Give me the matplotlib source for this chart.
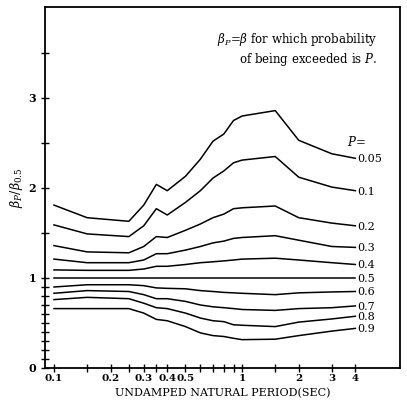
import matplotlib
matplotlib.use("Agg")
import matplotlib.pyplot as plt
from matplotlib.ticker import FixedLocator, NullFormatter

plt.rcParams['font.family'] = ['DejaVu Serif']
plt.rcParams['mathtext.fontset'] = 'dejavuserif'

# periods where the curves break
period = [0.1, 0.15, 0.25, 0.3, 0.35, 0.4, 0.5, 0.6, 0.7, 0.8, 0.9, 1.0, 1.5, 2.0, 3.0, 4.0]

p_labels = ['0.05', '0.1', '0.2', '0.3', '0.4', '0.5', '0.6', '0.7', '0.8', '0.9']

p005 = [1.81, 1.67, 1.63, 1.81, 2.04, 1.97, 2.13, 2.32, 2.52, 2.60, 2.75, 2.80, 2.86, 2.53, 2.38, 2.33]
p01 = [1.59, 1.49, 1.46, 1.58, 1.77, 1.70, 1.84, 1.97, 2.11, 2.19, 2.28, 2.31, 2.35, 2.12, 2.01, 1.97]
p02 = [1.36, 1.29, 1.28, 1.35, 1.46, 1.45, 1.53, 1.60, 1.67, 1.71, 1.77, 1.78, 1.80, 1.67, 1.61, 1.58]
p03 = [1.21, 1.17, 1.17, 1.20, 1.27, 1.27, 1.31, 1.35, 1.39, 1.41, 1.44, 1.45, 1.47, 1.42, 1.35, 1.34]
p04 = [1.09, 1.085, 1.085, 1.10, 1.13, 1.13, 1.15, 1.17, 1.18, 1.19, 1.20, 1.21, 1.22, 1.20, 1.17, 1.15]
p05 = [1.0, 1.0, 1.0, 1.0, 1.0, 1.0, 1.0, 1.0, 1.0, 1.0, 1.0, 1.0, 1.0, 1.0, 1.0, 1.0]
p06 = [0.90, 0.925, 0.925, 0.915, 0.89, 0.885, 0.88, 0.86, 0.85, 0.84, 0.835, 0.83, 0.815, 0.835, 0.845, 0.85]
p07 = [0.83, 0.86, 0.85, 0.815, 0.77, 0.77, 0.74, 0.70, 0.68, 0.67, 0.66, 0.65, 0.64, 0.66, 0.67, 0.69]
p08 = [0.76, 0.785, 0.77, 0.72, 0.67, 0.66, 0.61, 0.555, 0.525, 0.515, 0.48, 0.475, 0.46, 0.51, 0.545, 0.575]
p09 = [0.66, 0.66, 0.66, 0.61, 0.54, 0.525, 0.46, 0.39, 0.36, 0.35, 0.33, 0.315, 0.32, 0.36, 0.41, 0.44]

curves = [p005, p01, p02, p03, p04, p05, p06, p07, p08, p09]

x_major = [0.1, 0.2, 0.3, 0.4, 0.5, 1, 2, 3, 4]
x_major_lbl = ['0.1', '0.2', '0.3', '0.4', '0.5', '1', '2', '3', '4']
x_minor = [0.15, 0.25, 0.35, 0.6, 0.7, 0.8, 0.9, 1.5]
y_major = [0, 1, 2, 3]
y_minor = [0.1, 0.2, 0.3, 0.4, 0.5, 0.6, 0.7, 0.8, 0.9, 1.5, 2.5, 3.5]

fig = plt.figure(figsize=(4.07, 4.01), dpi=100)
ax = fig.add_axes([0.1106, 0.0823, 0.872, 0.9])

for i in range(len(curves)):
    ax.plot(period, curves[i], color='black', lw=1.1)
    ax.text(4.1, curves[i][-1], p_labels[i], fontsize=8, va='center_baseline', ha='left')

ax.text(3.6, p005[-1] + 0.1, '$P$=', fontsize=8.5, ha='left', va='bottom')

ax.set_xscale('log')
ax.set_xlim(0.0896, 6.9)
ax.set_ylim(0, 4.01)

ax.xaxis.set_major_locator(FixedLocator(x_major))
ax.set_xticklabels(x_major_lbl, fontweight='bold')
ax.xaxis.set_minor_locator(FixedLocator(x_minor))
ax.xaxis.set_minor_formatter(NullFormatter())
ax.yaxis.set_major_locator(FixedLocator(y_major))
ax.set_yticklabels(['0', '1', '2', '3'], fontweight='bold')
ax.yaxis.set_minor_locator(FixedLocator(y_minor))

ax.tick_params(which='both', direction='inout', length=6, width=1, labelsize=8)
ax.tick_params(axis='x', pad=1, labelsize=7.5)
for s in ax.spines.values():
    s.set_linewidth(1.3)

ax.set_xlabel('UNDAMPED NATURAL PERIOD(SEC)', fontsize=8, labelpad=4)
ax.set_ylabel(r'$\beta_P/\beta_{0.5}$', fontsize=9, labelpad=2)

ax.text(0.935, 0.935, r'$\beta_P$=$\beta$ for which probability' + '\nof being exceeded is $P$.',
        transform=ax.transAxes, ha='right', va='top', fontsize=8.5, linespacing=1.25)

fig.savefig('out.png', dpi=100)
